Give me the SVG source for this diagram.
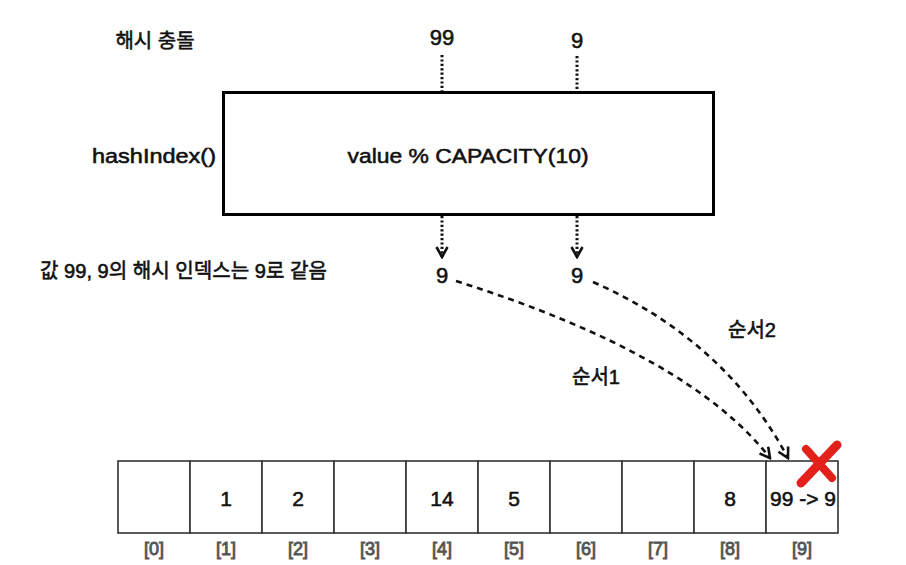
<svg xmlns="http://www.w3.org/2000/svg" width="906" height="565" viewBox="0 0 906 565">
<defs>
<style>
text{font-family:"Liberation Sans","Noto Sans CJK KR",sans-serif;fill:#111;stroke:#111;stroke-width:0.55;}
.lbl{font-size:20px;}
.num{font-size:22px;text-anchor:middle;}
.cellnum{font-size:21px;text-anchor:middle;}
.idx{font-size:18px;text-anchor:middle;fill:#555;stroke:#555;stroke-width:0.9;}
.cell{fill:#fff;stroke:#333;stroke-width:1.6;}
.dot{stroke:#111;stroke-width:3;stroke-dasharray:2.2 2.2;fill:none;}
.dash{stroke:#111;stroke-width:2.6;stroke-dasharray:6 5;fill:none;}
</style>
<marker id="chev" viewBox="0 0 14 14" refX="12" refY="7" markerWidth="14" markerHeight="14" markerUnits="userSpaceOnUse" orient="auto">
<path d="M2,1.5 L12,7 L2,12.5" fill="none" stroke="#111" stroke-width="2.6"/>
</marker>
</defs>
<rect width="906" height="565" fill="#fff"/>

<g id="title"><text class="lbl" x="155" y="48" text-anchor="middle">해시 충돌</text></g>
<g id="label-hashIndex"><text class="lbl" x="216" y="163" text-anchor="end" font-size="21" textLength="124" lengthAdjust="spacingAndGlyphs">hashIndex()</text></g>
<g id="label-same"><text class="lbl" x="40" y="278" textLength="287" lengthAdjust="spacingAndGlyphs">값 99, 9의 해시 인덱스는 9로 같음</text></g>

<g id="input-99"><text class="num" x="442" y="45">99</text></g>
<g id="input-9"><text class="num" x="577" y="48">9</text></g>

<g id="hash-box">
<rect x="223.5" y="92.5" width="490" height="122" fill="#fff" stroke="#000" stroke-width="3"/>
<text x="468" y="163" font-size="21" text-anchor="middle" textLength="241" lengthAdjust="spacingAndGlyphs">value % CAPACITY(10)</text>
</g>

<g id="out-9a"><text class="num" x="442" y="283">9</text></g>
<g id="out-9b"><text class="num" x="577" y="283">9</text></g>

<g id="order1"><text class="lbl" x="596" y="384" text-anchor="middle">순서1</text></g>
<g id="order2"><text class="lbl" x="752" y="337" text-anchor="middle">순서2</text></g>

<g id="array">
<g id="cell0"><rect class="cell" x="118" y="461" width="72" height="72"/><text class="idx" x="154" y="555">[0]</text></g>
<g id="cell1"><rect class="cell" x="190" y="461" width="72" height="72"/><text class="cellnum" x="226" y="506">1</text><text class="idx" x="226" y="555">[1]</text></g>
<g id="cell2"><rect class="cell" x="262" y="461" width="72" height="72"/><text class="cellnum" x="298" y="506">2</text><text class="idx" x="298" y="555">[2]</text></g>
<g id="cell3"><rect class="cell" x="334" y="461" width="72" height="72"/><text class="idx" x="370" y="555">[3]</text></g>
<g id="cell4"><rect class="cell" x="406" y="461" width="72" height="72"/><text class="cellnum" x="442" y="506">14</text><text class="idx" x="442" y="555">[4]</text></g>
<g id="cell5"><rect class="cell" x="478" y="461" width="72" height="72"/><text class="cellnum" x="514" y="506">5</text><text class="idx" x="514" y="555">[5]</text></g>
<g id="cell6"><rect class="cell" x="550" y="461" width="72" height="72"/><text class="idx" x="586" y="555">[6]</text></g>
<g id="cell7"><rect class="cell" x="622" y="461" width="72" height="72"/><text class="idx" x="658" y="555">[7]</text></g>
<g id="cell8"><rect class="cell" x="694" y="461" width="72" height="72"/><text class="cellnum" x="730" y="506">8</text><text class="idx" x="730" y="555">[8]</text></g>
<g id="cell9"><rect class="cell" x="766" y="461" width="72" height="72"/><text class="cellnum" x="803" y="506" textLength="66" lengthAdjust="spacingAndGlyphs">99 -&gt; 9</text><text class="idx" x="802" y="555">[9]</text></g>
</g>

<g id="connectors">
<line class="dot" x1="442" y1="55" x2="442" y2="91"/>
<line class="dot" x1="577" y1="56" x2="577" y2="91"/>
<path class="dot" d="M442,216 L442,257" marker-end="url(#chev)"/>
<path class="dot" d="M577,216 L577,257" marker-end="url(#chev)"/>
<path class="dash" d="M456,281 Q690,355 770,458" marker-end="url(#chev)"/>
<path class="dash" d="M593,282 Q725,340 788,458" marker-end="url(#chev)"/>
</g>

<g id="red-x" stroke="#e3211b" stroke-linecap="round" fill="none">
<path d="M837,445 L801,483" stroke-width="9"/>
<path d="M806,449 L832,478" stroke-width="8"/>
</g>
</svg>
